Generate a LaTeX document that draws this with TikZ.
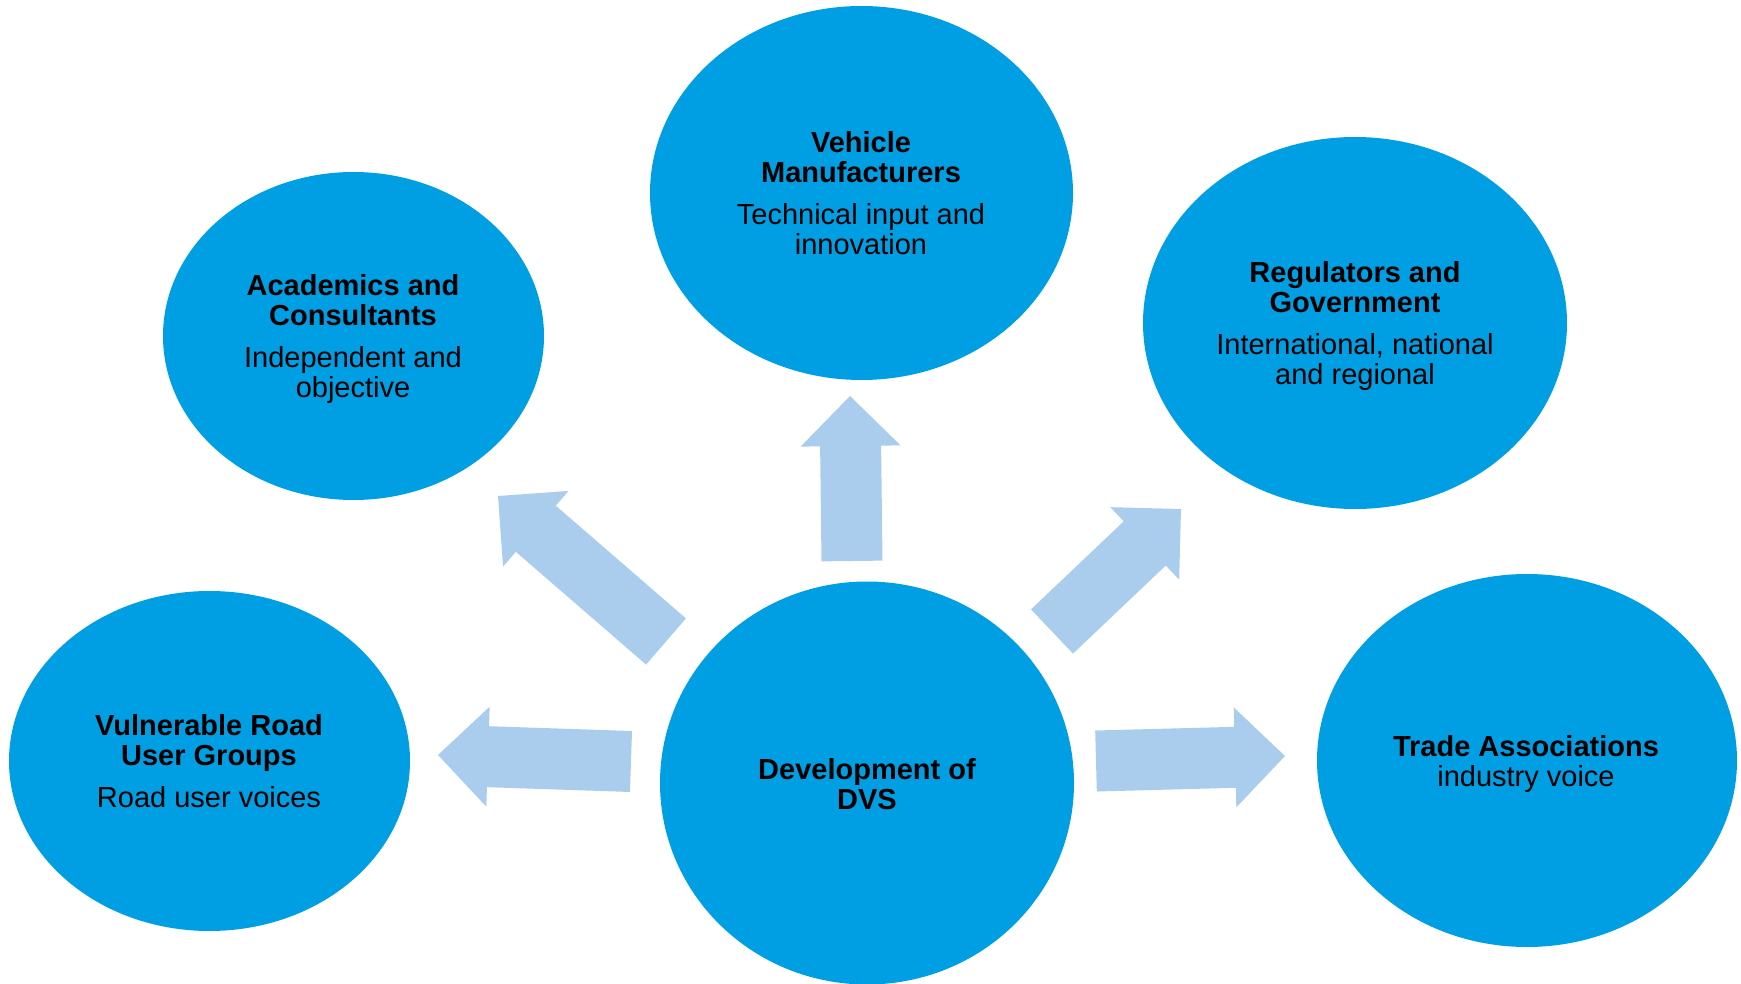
\documentclass[tikz,border=0pt]{standalone}
\usepackage{fontspec}
\setmainfont{Liberation Sans}
\usetikzlibrary{shapes.geometric,calc}

\definecolor{bubbleblue}{HTML}{009FE3}
\definecolor{arrowblue}{HTML}{ABCDED}

\tikzset{
  bubble/.style={ellipse, fill=bubbleblue, inner sep=0pt, outer sep=0pt},
  bubbletext/.style={anchor=north, align=center, inner sep=0pt, text=black,
    font=\fontsize{14.5}{15}\selectfont},
  arrowfill/.style={fill=arrowblue},
}

% block arrow from a tail coordinate (#1) to a tip coordinate (#2)
\newcommand{\blockarrow}[2]{%
  \coordinate (hb) at ($(#2)!25pt!(#1)$);
  \fill[arrowfill] ($(#1)!15.25pt!90:(#2)$) -- ($(hb)!15.25pt!90:(#2)$)
    -- ($(hb)!25pt!90:(#2)$) -- (#2) -- ($(hb)!25pt!-90:(#2)$)
    -- ($(hb)!15.25pt!-90:(#2)$) -- ($(#1)!15.25pt!-90:(#2)$) -- cycle;%
}

\begin{document}
\begin{tikzpicture}[x=0.5pt,y=-0.5pt]
  \useasboundingbox (0,0) rectangle (1741,984);

  % Bubbles
  \node[bubble, minimum width=211.5pt, minimum height=187pt] (veh) at (861.5,193) {};
  \node[bubble, minimum width=190.5pt, minimum height=164pt] (acad) at (353.5,336) {};
  \node[bubble, minimum width=212pt, minimum height=186pt] (reg) at (1355,323) {};
  \node[bubble, minimum width=200.5pt, minimum height=170pt] (vul) at (209.5,761) {};
  \node[bubble, minimum width=210pt, minimum height=186.5pt] (trade) at (1527,760.5) {};
  \node[bubble, minimum width=207pt, minimum height=201.5pt] (dvs) at (867,783) {};

  % Bubble texts
  \node[bubbletext] (vehText) at (861,131)
    {\textbf{Vehicle}\\\textbf{Manufacturers}\\[6pt]Technical input and\\innovation};
  \node[bubbletext] (acadText) at (353,274)
    {\textbf{Academics and}\\\textbf{Consultants}\\[6pt]Independent and\\objective};
  \node[bubbletext] (regText) at (1355,261)
    {\textbf{Regulators and}\\\textbf{Government}\\[6pt]International, national\\and regional};
  \node[bubbletext] (vulText) at (209,714)
    {\textbf{Vulnerable Road}\\\textbf{User Groups}\\[6pt]Road user voices};
  \node[bubbletext] (tradeText) at (1526,735)
    {\textbf{Trade Associations}\\industry voice};
  \node[bubbletext] (dvsText) at (867,758)
    {\textbf{Development of}\\\textbf{DVS}};

  % Arrow ends
  \coordinate (upTail) at (852,561);
  \coordinate (upTip) at (850,396);
  \coordinate (ulTail) at (666,641.5);
  \coordinate (ulTip) at (498,496);
  \coordinate (urTail) at (1052,631.5);
  \coordinate (urTip) at (1181,509);
  \coordinate (lTail) at (631,761.5);
  \coordinate (lTip) at (438,755);
  \coordinate (rTail) at (1096,761);
  \coordinate (rTip) at (1285,756);

  % Arrows out of DVS
  \blockarrow{upTail}{upTip}
  \blockarrow{ulTail}{ulTip}
  \blockarrow{urTail}{urTip}
  \blockarrow{lTail}{lTip}
  \blockarrow{rTail}{rTip}
\end{tikzpicture}
\end{document}
